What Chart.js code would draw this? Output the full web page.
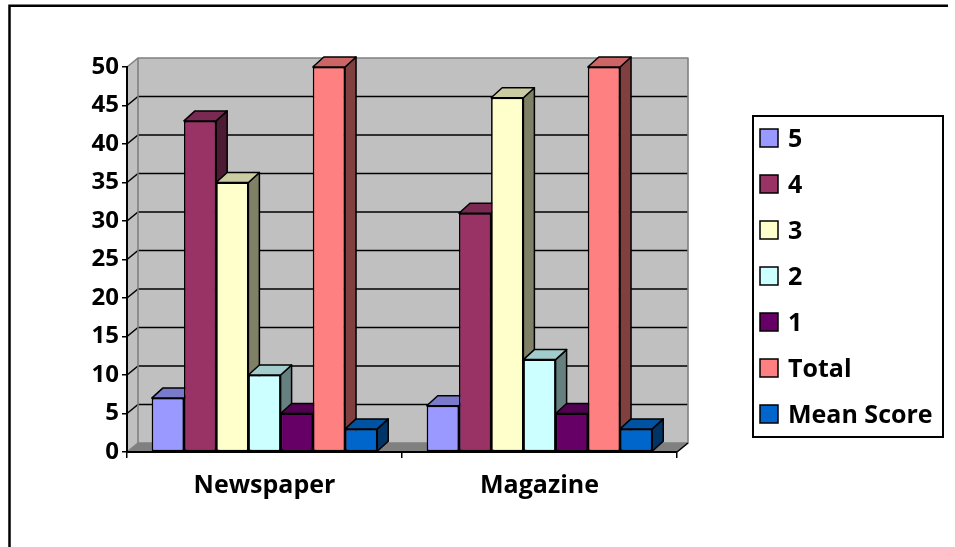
<!DOCTYPE html>
<html>
<head>
<meta charset="utf-8">
<title>Newspaper / Magazine</title>
<script src="https://cdn.jsdelivr.net/npm/chart.js@4.4.0/dist/chart.umd.min.js"></script>
<style>
  html, body { margin: 0; padding: 0; background: #ffffff; }
  canvas { display: block; }
</style>
</head>
<body>
<canvas id="chart-area" width="955" height="547"></canvas>
<script>
var categories = ['Newspaper', 'Magazine'];
var seriesNames = ['5', '4', '3', '2', '1', 'Total', 'Mean Score'];
var score5 = [7, 6];
var score4 = [43, 31];
var score3 = [35, 46];
var score2 = [10, 12];
var score1 = [5, 5];
var totals = [50, 50];
var meanScores = [3, 3];
var yMin = 0, yMax = 50, yStep = 5;

var seriesValues = [score5, score4, score3, score2, score1, totals, meanScores];
var colors = ['#9999FF', '#993366', '#FFFFCC', '#CCFFFF', '#660066', '#FF8080', '#0066CC'];

var FONT = '"Open Sans", "DejaVu Sans", sans-serif';

// depth of the 3d bars and of the back wall
var barDX = 11, barDY = 10;
var wallDX = 11, wallDY = 9;

function shade(hex, f) {
    var n = parseInt(hex.slice(1), 16);
    var r = Math.round(((n >> 16) & 255) * f);
    var g = Math.round(((n >> 8) & 255) * f);
    var b = Math.round((n & 255) * f);
    return 'rgb(' + r + ',' + g + ',' + b + ')';
}

function poly(c, pts) {
    c.beginPath();
    c.moveTo(pts[0], pts[1]);
    for (var i = 2; i < pts.length; i += 2) {
        c.lineTo(pts[i], pts[i + 1]);
    }
    c.closePath();
}

var wallPlugin = {
    id: 'wall',
    beforeDraw: function (chart) {
        var c = chart.ctx;
        var a = chart.chartArea;
        var ys = chart.scales.y;
        c.save();
        c.lineJoin = 'round';

        // side wall + back wall
        c.fillStyle = '#c0c0c0';
        poly(c, [a.left, a.top, a.left + wallDX, a.top - wallDY, a.left + wallDX, a.bottom - wallDY, a.left, a.bottom]);
        c.fill();
        c.fillRect(a.left + wallDX, a.top - wallDY, a.right - a.left, a.bottom - a.top);

        // floor
        c.fillStyle = '#808080';
        poly(c, [a.left, a.bottom, a.right, a.bottom, a.right + wallDX, a.bottom - wallDY, a.left + wallDX, a.bottom - wallDY]);
        c.fill();

        // gridlines on the wall
        c.strokeStyle = '#000000';
        c.lineWidth = 1.6;
        ys.ticks.forEach(function (t) {
            if (t.value <= yMin || t.value >= yMax) return;
            var p = ys.getPixelForValue(t.value);
            c.beginPath();
            c.moveTo(a.left, p);
            c.lineTo(a.left + wallDX, p - wallDY);
            c.lineTo(a.right + wallDX, p - wallDY);
            c.stroke();
        });

        // wall edges
        c.strokeStyle = '#808080';
        c.lineWidth = 1.6;
        c.strokeRect(a.left + wallDX, a.top - wallDY, a.right - a.left, a.bottom - a.top);
        c.beginPath();
        c.moveTo(a.left, a.top);
        c.lineTo(a.left + wallDX, a.top - wallDY);
        c.moveTo(a.left, a.bottom);
        c.lineTo(a.left + wallDX, a.bottom - wallDY);
        c.stroke();
        c.strokeStyle = '#000000';
        c.beginPath();
        c.moveTo(a.right, a.bottom);
        c.lineTo(a.right + wallDX, a.bottom - wallDY);
        c.stroke();
        c.restore();
    }
};

var barsPlugin = {
    id: 'bars3d',
    afterDatasetsDraw: function (chart) {
        var c = chart.ctx;
        c.save();
        c.lineJoin = 'round';
        c.strokeStyle = '#000000';
        c.lineWidth = 1.5;
        chart.data.datasets.forEach(function (ds, i) {
            var meta = chart.getDatasetMeta(i);
            meta.data.forEach(function (bar) {
                var p = bar.getProps(['x', 'y', 'base', 'width'], true);
                var x0 = p.x - p.width / 2;
                var x1 = p.x + p.width / 2;
                // right side
                c.fillStyle = shade(colors[i], 0.5);
                poly(c, [x1, p.y, x1 + barDX, p.y - barDY, x1 + barDX, p.base - barDY, x1, p.base]);
                c.fill();
                c.stroke();
                // top
                c.fillStyle = shade(colors[i], 0.8);
                poly(c, [x0, p.y, x1, p.y, x1 + barDX, p.y - barDY, x0 + barDX, p.y - barDY]);
                c.fill();
                c.stroke();
                bar.draw(c);
            });
        });
        c.restore();
    }
};

var legendPlugin = {
    id: 'boxLegend',
    afterDraw: function (chart) {
        var c = chart.ctx;
        c.save();
        // outer frame
        c.strokeStyle = '#000000';
        c.lineWidth = 2.5;
        c.beginPath();
        c.moveTo(9.5, 547);
        c.lineTo(9.5, 5.8);
        c.lineTo(948, 5.8);
        c.stroke();

        // legend box
        c.lineWidth = 2;
        c.strokeRect(753, 116, 190, 321);
        c.font = 'bold 25px ' + FONT;
        c.textBaseline = 'middle';
        c.textAlign = 'left';
        chart.data.datasets.forEach(function (ds, i) {
            var cy = 138 + i * 46;
            c.fillStyle = ds.backgroundColor;
            c.fillRect(760, cy - 9, 18, 18);
            c.lineWidth = 1.5;
            c.strokeRect(760, cy - 9, 18, 18);
            c.fillStyle = '#000000';
            c.fillText(ds.label, 788, cy + 2);
        });
        c.restore();
    }
};

var datasets = seriesNames.map(function (name, i) {
    return {
        label: name,
        data: seriesValues[i],
        backgroundColor: colors[i],
        borderColor: '#000000',
        borderWidth: 1.5,
        borderSkipped: false
    };
});

var config = {
    type: 'bar',
    data: {
        labels: categories,
        datasets: datasets
    },
    options: {
        responsive: false,
        animation: false,
        layout: {
            padding: { left: 0, right: 278, top: 67, bottom: 0 }
        },
        plugins: {
            legend: { display: false },
            tooltip: { enabled: false }
        },
        datasets: {
            bar: { categoryPercentage: 0.82, barPercentage: 1.0 }
        },
        scales: {
            x: {
                grid: {
                    display: true,
                    drawOnChartArea: false,
                    drawTicks: true,
                    tickLength: 6,
                    color: '#000000',
                    lineWidth: 1.5,
                    offset: true
                },
                border: { display: true, color: '#000000', width: 2 },
                ticks: {
                    color: '#000000',
                    padding: 13,
                    font: { family: FONT, size: 25, weight: 'bold' }
                },
                afterFit: function (scale) { scale.height = 95; }
            },
            y: {
                min: yMin,
                max: yMax,
                grid: {
                    display: true,
                    drawOnChartArea: false,
                    drawTicks: true,
                    tickLength: 5,
                    color: '#000000',
                    lineWidth: 1.5
                },
                border: { display: true, color: '#000000', width: 2 },
                ticks: {
                    stepSize: yStep,
                    color: '#000000',
                    padding: 3,
                    font: { family: FONT, size: 24, weight: 'bold' }
                },
                afterFit: function (scale) { scale.width = 127; }
            }
        }
    },
    plugins: [wallPlugin, barsPlugin, legendPlugin]
};

window.addEventListener('load', function () {
    var ctx = document.getElementById('chart-area').getContext('2d');
    window.myBars = new Chart(ctx, config);
}, false);
</script>
</body>
</html>
